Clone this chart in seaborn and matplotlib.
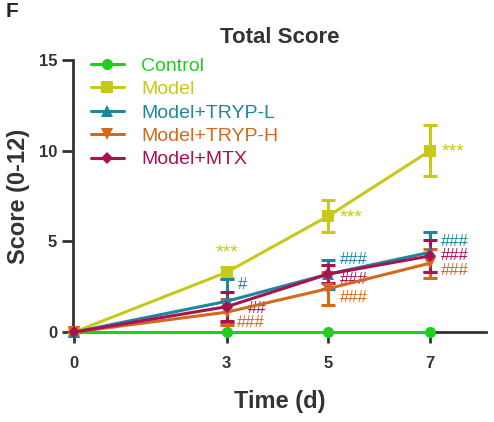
import matplotlib
matplotlib.use('Agg')
import matplotlib.pyplot as plt
import numpy as np
import pandas as pd
import seaborn as sns

# data (mean, SD)
days = [0, 3, 5, 7]
groups = ['Control', 'Model', 'Model+TRYP-L', 'Model+TRYP-H', 'Model+MTX']
control_mean = [0, 0, 0, 0]
control_sd = [0, 0, 0, 0]
model_mean = [0, 3.3, 6.4, 10.0]
model_sd = [0, 0.3, 0.9, 1.4]
tryp_l_mean = [0, 1.7, 3.2, 4.4]
tryp_l_sd = [0, 1.2, 0.8, 1.1]
tryp_h_mean = [0, 1.1, 2.4, 3.8]
tryp_h_sd = [0, 0.7, 0.9, 0.8]
mtx_mean = [0, 1.4, 3.2, 4.2]
mtx_sd = [0, 0.8, 0.5, 0.9]

colors = ['#1ecf1e', '#c8c81a', '#1f86a0', '#d2691e', '#a8124f']
markers = ['o', 's', '^', 'v', 'D']
msizes = [8, 9, 8, 8, 6]

means = [control_mean, model_mean, tryp_l_mean, tryp_h_mean, mtx_mean]
sds = [control_sd, model_sd, tryp_l_sd, tryp_h_sd, mtx_sd]

rows = []
for g, m, s in zip(groups, means, sds):
    for d, mm, ss in zip(days, m, s):
        rows.append({'Group': g, 'Day': d, 'Score': mm, 'SD': ss})
df = pd.DataFrame(rows)

sns.set_style('ticks')
plt.rcParams['font.family'] = ['Liberation Sans', 'DejaVu Sans']
plt.rcParams['font.weight'] = 'bold'

fig = plt.figure(figsize=(4.94, 4.22), dpi=100)
ax = fig.add_axes([0.148, 0.213, 0.836, 0.645])

# draw order: control last so it sits on top along the baseline
order = [1, 3, 4, 2, 0]
for i in order:
    g = groups[i]
    sub = df[df['Group'] == g]
    ax.errorbar(sub['Day'], sub['Score'], yerr=sub['SD'], fmt='none',
                ecolor=colors[i], elinewidth=2.2, capsize=5, capthick=2.2,
                clip_on=False, zorder=2 + i * 0.1)
    sns.lineplot(data=sub, x='Day', y='Score', color=colors[i],
                 marker=markers[i], markersize=msizes[i], markeredgewidth=0,
                 linewidth=2.2, ax=ax, label=g, clip_on=False,
                 zorder=3 + i * 0.1)

# significance marks
ax.text(3, 3.9, '***', color=colors[1], fontsize=14, fontweight='normal', ha='center', va='bottom')
ax.text(5.22, 6.3, '***', color=colors[1], fontsize=14, fontweight='normal', ha='left', va='center')
ax.text(7.22, 9.9, '***', color=colors[1], fontsize=14, fontweight='normal', ha='left', va='center')
ax.text(3.22, 2.6, '#', color=colors[2], fontsize=12, fontweight='normal', ha='left', va='center')
ax.text(3.42, 1.3, '##', color=colors[4], fontsize=12, fontweight='normal', ha='left', va='center')
ax.text(3.2, 0.55, '###', color=colors[3], fontsize=12, fontweight='normal', ha='left', va='center')
ax.text(5.22, 4.0, '###', color=colors[2], fontsize=12, fontweight='normal', ha='left', va='center')
ax.text(5.22, 2.9, '###', color=colors[4], fontsize=12, fontweight='normal', ha='left', va='center')
ax.text(5.22, 1.9, '###', color=colors[3], fontsize=12, fontweight='normal', ha='left', va='center')
ax.text(7.22, 5.0, '###', color=colors[2], fontsize=12, fontweight='normal', ha='left', va='center')
ax.text(7.22, 4.2, '###', color=colors[4], fontsize=12, fontweight='normal', ha='left', va='center')
ax.text(7.22, 3.4, '###', color=colors[3], fontsize=12, fontweight='normal', ha='left', va='center')

ax.set_xlim(-0.02, 8.1)
ax.set_ylim(0, 15)
ax.set_xticks(days)
ax.set_yticks([0, 5, 10, 15])
ax.tick_params(labelsize=12, width=2, length=8, colors='#333333')
ax.tick_params(axis='x', pad=9)
for lab in ax.get_xticklabels() + ax.get_yticklabels():
    lab.set_fontweight('bold')
sns.despine(ax=ax)
for sp in ['left', 'bottom']:
    ax.spines[sp].set_linewidth(2)
    ax.spines[sp].set_color('#333333')

ax.set_xlabel('Time (d)', fontsize=17, fontweight='bold', color='#333333', labelpad=14)
ax.set_ylabel('Score (0-12)', fontsize=17, fontweight='bold', color='#333333', labelpad=6)
ax.set_title('Total Score', fontsize=16, fontweight='bold', color='#333333', pad=12)
fig.text(0.012, 0.995, 'F', fontsize=15, fontweight='bold', va='top')

# legend in group order with coloured text
handles, labels = ax.get_legend_handles_labels()
hmap = dict(zip(labels, handles))
leg = ax.legend([hmap[g] for g in groups], groups, loc='upper left',
                bbox_to_anchor=(0.0, 1.075), frameon=False, fontsize=14,
                handlelength=1.7, handletextpad=0.9, labelspacing=0.3)
for t, c in zip(leg.get_texts(), colors):
    t.set_color(c)
    t.set_fontweight('normal')

fig.savefig('out.png', dpi=100)
